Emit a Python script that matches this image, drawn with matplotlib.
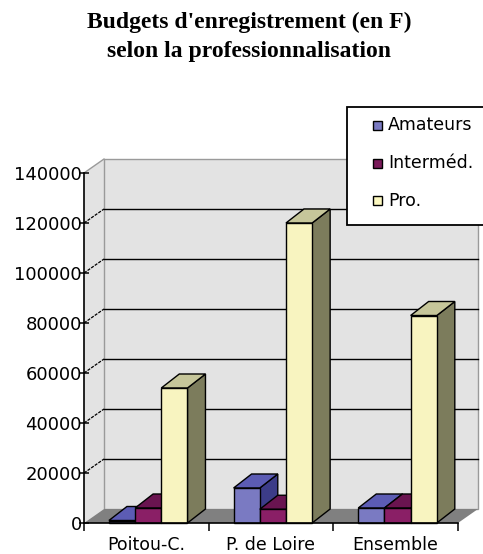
import matplotlib
matplotlib.use('Agg')
import matplotlib.pyplot as plt
from matplotlib.patches import Polygon, Rectangle

# ---- data ----
categories = ["Poitou-C.", "P. de Loire", "Ensemble"]
series_names = ["Amateurs", "Interméd.", "Pro."]
amateurs = [1000, 14000, 6000]
intermed = [6000, 5500, 6000]
pro = [54000, 120000, 83000]
yticks = [0, 20000, 40000, 60000, 80000, 100000, 120000, 140000]
title_lines = ["Budgets d'enregistrement (en F)", "selon la professionnalisation"]

series = [amateurs, intermed, pro]
# (front, top, side, legend)
colors = [
    ("#7a7ac2", "#5c5cb4", "#3c3c88", "#7a7ac2"),
    ("#8a1f66", "#6a1450", "#5a1040", "#7a1a5a"),
    ("#f8f4c0", "#c6c69a", "#7c7c5c", "#fcf8c0"),
]

W, H = 483, 554
fig = plt.figure(figsize=(W / 100, H / 100), dpi=100)
x_left, x_right, y_bot, y_top = 84, 458, 523, 173
ax = fig.add_axes([x_left / W, (H - y_bot) / H, (x_right - x_left) / W, (y_bot - y_top) / H])
ncat = len(categories)
ymax = yticks[-1]
ax.set_xlim(0, ncat)
ax.set_ylim(0, ymax)
ax.patch.set_visible(False)

px_x = ncat / (x_right - x_left)
px_y = ymax / (y_bot - y_top)
dx, dy = 20 * px_x, 14 * px_y          # wall depth
bdx, bdy = 18 * px_x, 14 * px_y        # bar depth

def poly(pts, fc, ec, lw=1.0, z=1):
    p = Polygon(pts, closed=True, facecolor=fc, edgecolor=ec, linewidth=lw,
                zorder=z, clip_on=False, joinstyle='miter')
    ax.add_patch(p)

wall = "#e3e3e3"
poly([(0, 0), (dx, dy), (dx, ymax + dy), (0, ymax)], wall, "none", z=0)
poly([(dx, dy), (ncat + dx, dy), (ncat + dx, ymax + dy), (dx, ymax + dy)], wall, "#9a9a9a", lw=1.0, z=0)
poly([(0, 0), (ncat, 0), (ncat + dx, dy), (dx, dy)], "#808080", "none", z=1)
ax.plot([0, dx], [ymax, ymax + dy], color="#9a9a9a", lw=1.0, zorder=1, clip_on=False)

for v in yticks[1:-1]:
    ax.plot([dx, ncat + dx], [v + dy, v + dy], color="black", lw=1.0, zorder=1, clip_on=False)
    ax.plot([0, dx], [v, v + dy], color="black", lw=0.9, zorder=1, clip_on=False, ls=(0, (2.5, 1)))

gap, w = 0.2, 0.21
z = 3
for i in range(ncat):
    for s, vals in enumerate(series):
        v = vals[i]
        x0 = i + gap + s * w
        front, top, side, _ = colors[s]
        poly([(x0 + w, 0), (x0 + w + bdx, bdy), (x0 + w + bdx, v + bdy), (x0 + w, v)], side, "black", z=z)
        poly([(x0, v), (x0 + w, v), (x0 + w + bdx, v + bdy), (x0 + bdx, v + bdy)], top, "black", z=z)
        poly([(x0, 0), (x0 + w, 0), (x0 + w, v), (x0, v)], front, "black", z=z)
        z += 1

for sp in ["top", "right"]:
    ax.spines[sp].set_visible(False)
for sp in ["left", "bottom"]:
    ax.spines[sp].set_linewidth(1.2)
    ax.spines[sp].set_zorder(50)
ax.set_yticks(yticks)
ax.set_yticklabels([str(v) for v in yticks])
ax.tick_params(axis='y', direction='inout', length=7, width=1.1, labelsize=13, pad=-2)
ax.set_xticks(range(ncat + 1))
ax.set_xticklabels([])
ax.tick_params(axis='x', which='major', direction='out', length=6, width=1.1)
ax.set_xticks([i + 0.5 for i in range(ncat)], minor=True)
ax.set_xticklabels(categories, minor=True)
ax.tick_params(axis='x', which='minor', length=0, labelsize=12.5, pad=9)

# title
for k, line in enumerate(title_lines):
    fig.text(249 / W, 1 - (22 + 29 * k) / H, line, ha='center', va='center', fontsize=17,
             family='Liberation Serif', fontweight='bold')

# legend (drawn by hand to match the reference box)
lx0, ly0, lx1, ly1 = 347, 107, 484, 225
fig.patches.append(Rectangle((lx0 / W, 1 - ly1 / H), (lx1 - lx0) / W, (ly1 - ly0) / H,
                             transform=fig.transFigure, facecolor='white', edgecolor='black',
                             linewidth=1.3, zorder=100))
for s, name in enumerate(series_names):
    yc = 125 + 38 * s
    fig.patches.append(Rectangle((373 / W, 1 - (yc + 4.5) / H), 9 / W, 9 / H,
                                 transform=fig.transFigure, facecolor=colors[s][3],
                                 edgecolor='black', linewidth=1.0, zorder=101))
    fig.text(388 / W, 1 - yc / H, name, ha='left', va='center', fontsize=12.5, zorder=102)

fig.savefig("out.png", dpi=100)
